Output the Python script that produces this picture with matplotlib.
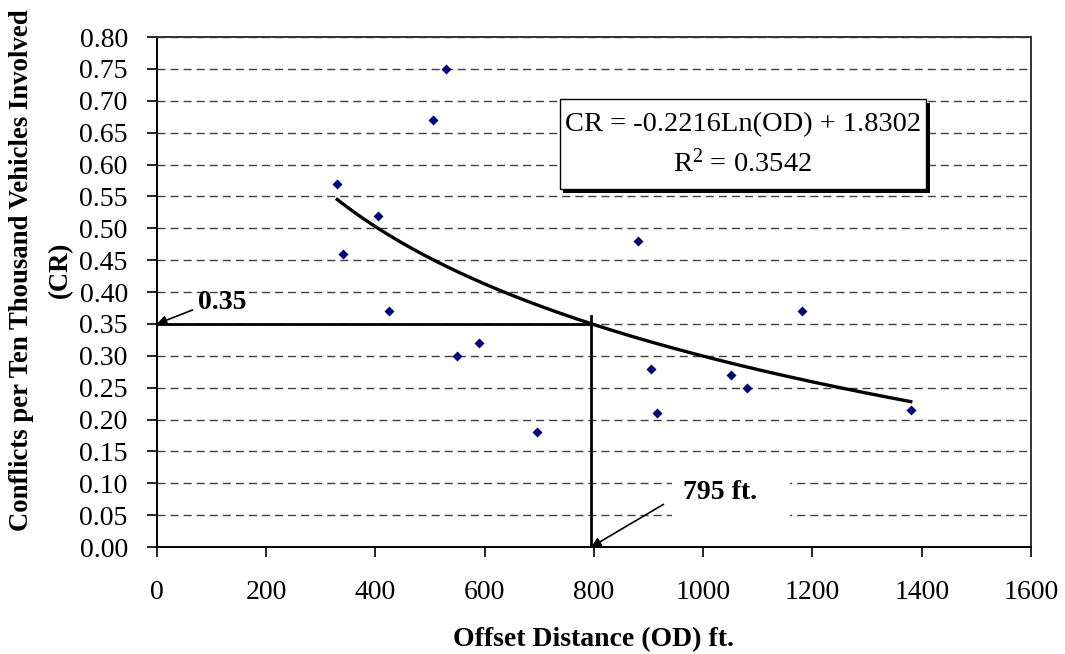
import numpy as np
from matplotlib import pyplot as plt
from matplotlib.patches import Rectangle

# offset distance (ft) and conflict rate
od = [330, 340, 405, 425, 505, 530, 550, 590, 695, 880, 905, 915, 1050, 1080, 1180, 1380]
cr = [0.57, 0.46, 0.52, 0.37, 0.67, 0.75, 0.30, 0.32, 0.18, 0.48, 0.28, 0.21, 0.27, 0.25, 0.37, 0.215]

# log fit shown in the chart
fit_a = -0.2216
fit_b = 1.8302
fit_r2 = 0.3542
target_cr = 0.35
target_od = 795

x_ticks = [0, 200, 400, 600, 800, 1000, 1200, 1400, 1600]
y_ticks = np.round(np.arange(0, 0.801, 0.05), 2)

plt.rcParams['font.family'] = ['Liberation Serif', 'DejaVu Serif']

fig = plt.figure(figsize=(10.65, 6.54), dpi=100)
ax = fig.add_axes([0.1474, 0.1636, 0.8206, 0.7798])

for y in y_ticks[1:]:
    ax.axhline(y, color='#404040', lw=1.0, ls=(0, (5.8, 3.6)), zorder=1)

ax.scatter(od, cr, marker='D', s=26, color='#000080', lw=0, zorder=3)

xs = np.linspace(min(od), max(od), 200)
ax.plot(xs, fit_a * np.log(xs) + fit_b, color='black', lw=2.4, zorder=4)

# reading lines for CR = 0.35
ax.plot([0, target_od], [target_cr, target_cr], color='black', lw=2, zorder=4)
ax.plot([target_od, target_od], [0, target_cr + 0.012], color='black', lw=2, zorder=4)

ax.annotate('0.35', xy=(0, target_cr), xytext=(75, 0.383), fontsize=20, fontweight='bold',
            va='center', ha='left',
            arrowprops=dict(arrowstyle='-|>', color='black', lw=1.2, shrinkA=2, shrinkB=0,
                            mutation_scale=14, relpos=(0, 0.3)), zorder=5)

# white patch behind the 795 ft. label
ax.add_patch(Rectangle((943, 0.04), 216, 0.08, fc='white', ec='none', zorder=2))
ax.annotate('795 ft.', xy=(target_od, 0), xytext=(963, 0.085), fontsize=20, fontweight='bold',
            va='center', ha='left',
            arrowprops=dict(arrowstyle='-|>', color='black', lw=1.2, shrinkA=14, shrinkB=0,
                            mutation_scale=14, relpos=(0, 0.5)), zorder=5)

# equation box with drop shadow (axes fraction)
bx0, bx1, by0, by1 = 0.461, 0.880, 0.702, 0.878
sx, sy = 0.0040, 0.0070
ax.add_patch(Rectangle((bx0 + sx, by0 - sy), bx1 - bx0, by1 - by0, transform=ax.transAxes,
                       fc='black', ec='none', zorder=6))
ax.add_patch(Rectangle((bx0, by0), bx1 - bx0, by1 - by0, transform=ax.transAxes,
                       fc='white', ec='black', lw=1.0, zorder=7))
ax.text((bx0 + bx1) / 2, 0.828, f'CR = {fit_a}Ln(OD) + {fit_b}', transform=ax.transAxes,
        fontsize=20.5, ha='center', va='center', zorder=8)
ax.text((bx0 + bx1) / 2, 0.753, f'$\\mathregular{{R^2}}$ = {fit_r2}', transform=ax.transAxes,
        fontsize=20.5, ha='center', va='center', zorder=8)

ax.set_xlim(0, 1600)
ax.set_ylim(0, 0.80)
ax.set_xticks(x_ticks)
ax.set_yticks(y_ticks)
ax.set_yticklabels([f'{v:.2f}' for v in y_ticks])
ax.tick_params(direction='out', length=7, width=1.2, labelsize=20)
ax.tick_params(axis='x', pad=17)
ax.tick_params(axis='y', pad=14)
for s in ax.spines.values():
    s.set_linewidth(1.4)
ax.spines['top'].set_color('#333333')
ax.spines['right'].set_color('#333333')

ax.set_xlabel('Offset Distance (OD) ft.', fontsize=20, fontweight='bold', labelpad=16)
ax.set_ylabel('Conflicts per Ten Thousand Vehicles Involved\n(CR)', fontsize=19.3,
              fontweight='bold', linespacing=1.75)
ax.yaxis.set_label_coords(-0.0961, 0.543)

fig.savefig('out.png', dpi=100)
